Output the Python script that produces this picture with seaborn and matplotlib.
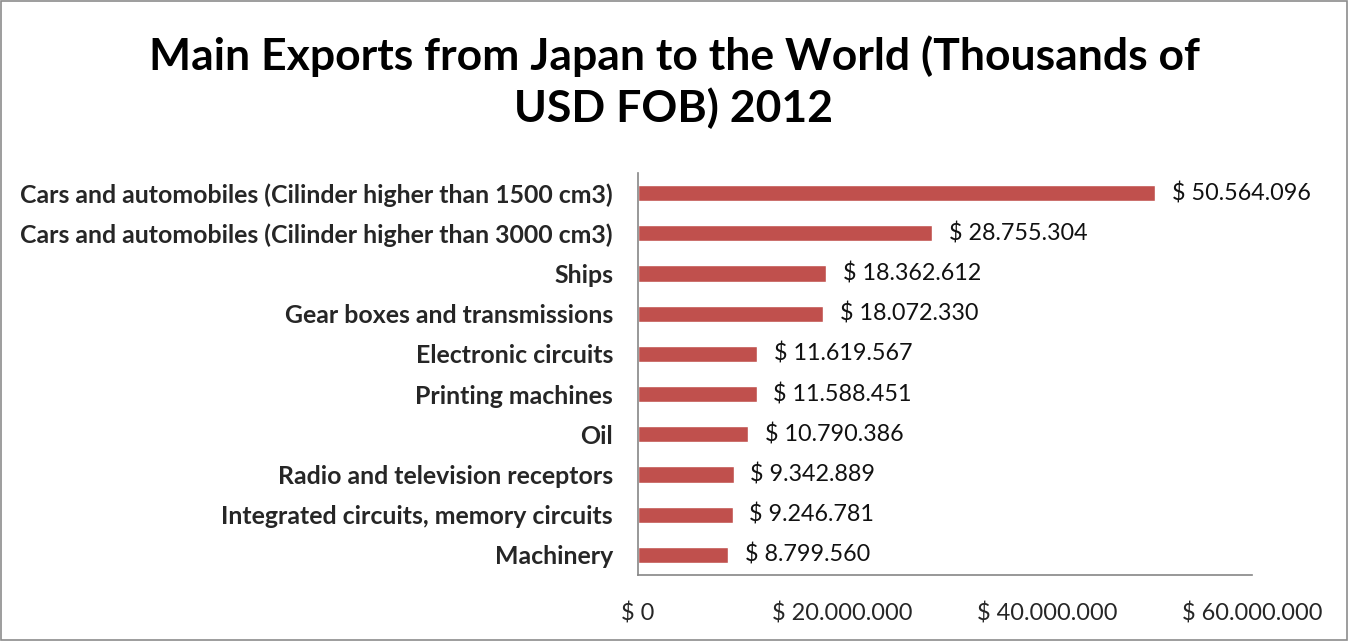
import matplotlib
matplotlib.use("Agg")
import matplotlib.pyplot as plt
import seaborn as sns
import pandas as pd
from matplotlib.patches import Rectangle

categories = [
    "Cars and automobiles (Cilinder higher than 1500 cm3)",
    "Cars and automobiles (Cilinder higher than 3000 cm3)",
    "Ships",
    "Gear boxes and transmissions",
    "Electronic circuits",
    "Printing machines",
    "Oil",
    "Radio and television receptors",
    "Integrated circuits, memory circuits",
    "Machinery",
]
values = [50564096, 28755304, 18362612, 18072330, 11619567,
          11588451, 10790386, 9342889, 9246781, 8799560]
xticks = [0, 20000000, 40000000, 60000000]

def money(v):
    return "$ " + f"{int(v):,}".replace(",", ".")

df = pd.DataFrame({"product": categories, "value": values})

sns.set_style("white")
plt.rcParams["font.family"] = ["Lato", "DejaVu Sans"]

fig = plt.figure(figsize=(13.48, 6.41), dpi=100)
ax = fig.add_axes([638 / 1348, 1 - 575 / 641, (1252 - 638) / 1348, (575 - 173) / 641])

sns.barplot(data=df, y="product", x="value", orient="h", color="#C0504D",
            width=0.4, saturation=1, ax=ax)

for c in ax.containers:
    ax.bar_label(c, labels=[money(v) for v in values], padding=12,
                 fontsize=16.8, color="#111111")

ax.set_xlim(0, 60000000)
ax.set_ylim(9.5, -0.5)
ax.set_xticks(xticks)
ax.set_xticklabels([money(v) for v in xticks], fontsize=16.9)
ax.tick_params(axis="x", length=0, pad=20)
ax.tick_params(axis="y", length=0, pad=18)
for lbl in ax.get_yticklabels():
    lbl.set_fontweight("bold")
    lbl.set_fontsize(17.9)
ax.set_xlabel("")
ax.set_ylabel("")
for s in ["top", "right"]:
    ax.spines[s].set_visible(False)
for s in ["left", "bottom"]:
    ax.spines[s].set_color("#868686")
    ax.spines[s].set_linewidth(1.2)

fig.text(0.5, 1 - 82 / 641, "Main Exports from Japan to the World (Thousands of\nUSD FOB) 2012",
         ha="center", va="center", fontsize=32, fontweight="bold",
         linespacing=1.3, color="black")

fig.patches.append(Rectangle((0.001, 0.001), 0.998, 0.997, transform=fig.transFigure,
                             fill=False, edgecolor="#8c8c8c", linewidth=1.2))

fig.savefig("out.png", dpi=100)
